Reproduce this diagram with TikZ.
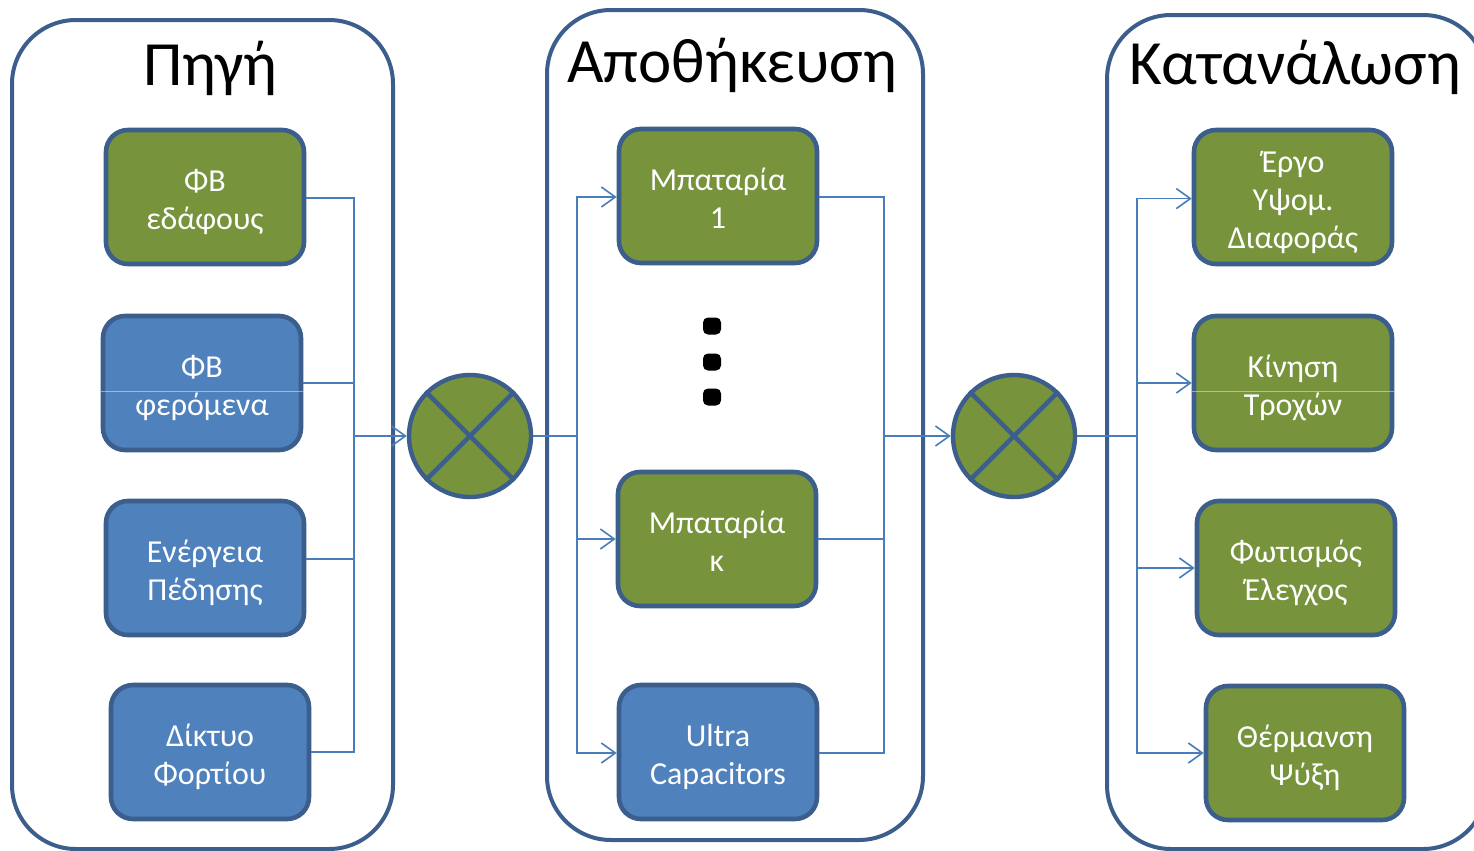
\documentclass[tikz,border=0pt]{standalone}
\usepackage{fontspec}
\setmainfont{Carlito}
\usetikzlibrary{arrows.meta}
\definecolor{bord}{HTML}{3B5E8D}
\definecolor{gfill}{HTML}{77933C}
\definecolor{bfill}{HTML}{4F81BD}
\definecolor{conncol}{HTML}{4A7EBB}
\newcommand{\mytop}{\rule{0pt}{18pt}}
\newcommand{\mybot}{\rule[-5pt]{0pt}{5pt}}
\tikzset{
  panel/.style={draw=bord, line width=2pt, rounded corners=32pt, fill=white},
  boxbase/.style={draw=bord, line width=2.3pt, rounded corners=11pt, minimum width=99pt, minimum height=67pt, inner sep=0pt, align=center, text=white, font=\fontsize{16}{19}\selectfont},
  gbox/.style={boxbase, fill=gfill},
  bbox/.style={boxbase, fill=bfill},
  ttl/.style={font=\fontsize{31.5}{33}\selectfont, text=black, anchor=base},
  mixer/.style={circle, draw=bord, fill=gfill, line width=2.2pt, minimum size=61pt, inner sep=0pt},
  conn/.style={draw=conncol, line width=0.8pt},
  arr/.style={conn, -{Straight Barb[length=7pt, width=10pt, line width=0.8pt]}},
  dotmark/.style={fill=black, rounded corners=2.5pt, minimum width=9pt, minimum height=8.5pt, inner sep=0pt},
  glint/.style={draw=white, opacity=0.45, line width=0.5pt}
}
\begin{document}
\begin{tikzpicture}[x=0.5pt, y=-0.5pt]
\useasboundingbox (0,0) rectangle (1474,851);
\fill[white] (0,0) rectangle (1474,851);
% panels
\draw[panel] (12,20) rectangle (393,849);
\draw[panel] (547,10) rectangle (923,840);
\draw[panel] (1107,15) rectangle (1487,849);
% titles
\node[ttl] (t1) at (210,85) {Πηγή};
\node[ttl] (t2) at (732,83) {Αποθήκευση};
\node[ttl] (t3) at (1295,84) {Κατανάλωση};
% source boxes
\node[gbox] (b1) at (205,197) {\mytop ΦΒ\\εδάφους\mybot};
\node[bbox] (b2) at (202,383) {\mytop ΦΒ\\φερόμενα\mybot};
\node[bbox] (b3) at (205,568) {\mytop Ενέργεια\\Πέδησης\mybot};
\node[bbox] (b4) at (210,752) {\mytop Δίκτυο\\Φορτίου\mybot};
% storage boxes
\node[gbox] (m1) at (718,196) {\mytop Μπαταρία\\1\mybot};
\node[gbox] (m2) at (717,539) {\mytop Μπαταρία\\κ\mybot};
\node[bbox] (m3) at (718,752) {\mytop Ultra\\Capacitors\mybot};
% dots
\node[dotmark] (d1) at (712,326) {};
\node[dotmark] (d2) at (712,362) {};
\node[dotmark] (d3) at (712,397) {};
% consumption boxes
\node[gbox] (r1) at (1293,197) {\mytop Έργο\\Υψομ.\\Διαφοράς\mybot};
\node[gbox] (r2) at (1293,383) {\mytop Κίνηση\\Τροχών\mybot};
\node[gbox] (r3) at (1296,568) {\mytop Φωτισμός\\Έλεγχος\mybot};
\node[gbox] (r4) at (1305,753) {\mytop Θέρμανση\\Ψύξη\mybot};
% glints
\draw[glint] (b2.west |- 0,391) -- (b2.east |- 0,391);
\draw[glint] (r2.west |- 0,391) -- (r2.east |- 0,391);
% mixers
\node[mixer] (c1) at (470,436) {};
\draw[draw=bord, line width=2.2pt] (c1.north east) -- (c1.south west) (c1.north west) -- (c1.south east);
\node[mixer] (c2) at (1014,436) {};
\draw[draw=bord, line width=2.2pt] (c2.north east) -- (c2.south west) (c2.north west) -- (c2.south east);
% junctions
\coordinate (jl) at (354,436);
\coordinate (jm) at (577,436);
\coordinate (jr) at (884,436);
\coordinate (jc) at (1137,436);
% left connectors
\draw[conn] ([yshift=-0.5pt]b1.east) -| (jl);
\draw[conn] (b2.east) -| (jl);
\draw[conn] ([yshift=4.5pt]b3.east) -| (jl);
\draw[conn] (b4.east) -| (jl);
\draw[arr] (jl) -- (c1.west);
% middle connectors
\draw[conn] (c1.east) -- (jm);
\draw[arr] (jm) |- ([yshift=-0.5pt]m1.west);
\draw[arr] (jm) |- (m2.west);
\draw[arr] (jm) |- ([yshift=-0.5pt]m3.west);
\draw[conn] ([yshift=-0.5pt]m1.east) -| (jr);
\draw[conn] (m2.east) -| (jr);
\draw[conn] ([yshift=-0.5pt]m3.east) -| (jr);
\draw[arr] (jr) -- (c2.west);
% right connectors
\draw[conn] (c2.east) -- (jc);
\draw[arr] (jc) |- ([yshift=-0.8pt]r1.west);
\draw[arr] (jc) |- (r2.west);
\draw[arr] (jc) |- (r3.west);
\draw[arr] (jc) |- (r4.west);
\end{tikzpicture}
\end{document}
